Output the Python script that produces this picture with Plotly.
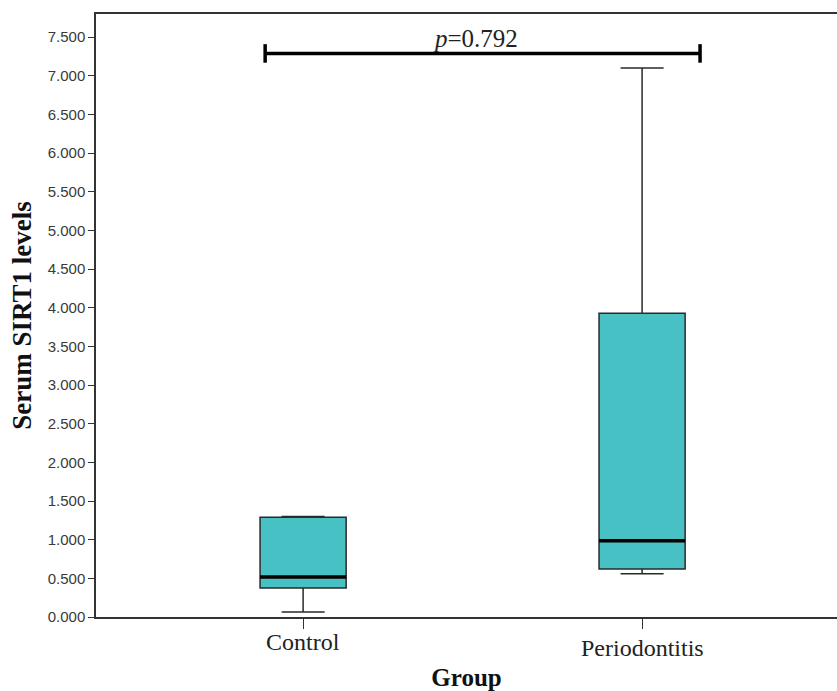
import plotly.graph_objects as go

groups = ["Control", "Periodontitis"]
lower_whisker = [0.065, 0.56]
q1 = [0.375, 0.62]
median = [0.517, 0.985]
q3 = [1.29, 3.93]
upper_whisker = [1.30, 7.10]
p_text = "<i>p</i>=0.792"
bracket_y = 7.29
y_ticks = [i * 0.5 for i in range(16)]

fill = "#48C1C4"
box_w = 0.254

fig = go.Figure()
fig.add_trace(go.Box(
    x=groups, q1=q1, median=median, q3=q3,
    lowerfence=lower_whisker, upperfence=upper_whisker,
    fillcolor=fill, line=dict(color="#2a2a2a", width=1.5),
    width=box_w, whiskerwidth=0.5, boxpoints=False, showlegend=False,
    hoverinfo="skip",
))

# thick median lines
for i, m in enumerate(median):
    fig.add_shape(type="line", xref="x", yref="y",
                  x0=i - box_w / 2, x1=i + box_w / 2, y0=m, y1=m,
                  line=dict(color="black", width=3.5))

# category labels (drawn as annotations so each can sit at its own height)
label_shift = [-10, -16]
for g, s in zip(groups, label_shift):
    fig.add_annotation(x=g, y=0, xref="x", yref="paper", text=g,
                       showarrow=False, yanchor="top", yshift=s,
                       font=dict(family="Liberation Serif", size=24, color="#222"))

# significance bracket
bx0, bx1 = -0.112, 1.171
fig.add_shape(type="line", xref="x", yref="y", x0=bx0, x1=bx1,
              y0=bracket_y, y1=bracket_y, line=dict(color="black", width=3.5))
for bx in (bx0, bx1):
    fig.add_shape(type="line", xref="x", yref="y", x0=bx, x1=bx,
                  y0=bracket_y - 0.12, y1=bracket_y + 0.12,
                  line=dict(color="black", width=3.5))
fig.add_annotation(x=(bx0 + bx1) / 2 - 0.02, y=bracket_y, xref="x", yref="y",
                   text=p_text, showarrow=False, yanchor="bottom", yshift=-1,
                   font=dict(family="Liberation Serif", size=25, color="#222"))

fig.update_layout(
    width=837, height=691,
    margin=dict(l=96, r=0, t=14, b=74, autoexpand=False),
    paper_bgcolor="white", plot_bgcolor="white",
    xaxis=dict(
        range=[-0.611, 1.575], showline=True, linecolor="#333", linewidth=1.5,
        mirror=True, ticks="outside", ticklen=10, tickcolor="#333",
        automargin=False, showticklabels=False,
        title=dict(text="<b>Group</b>", standoff=42,
                   font=dict(family="Liberation Serif", size=25, color="#111")),
        showgrid=False, zeroline=False,
    ),
    yaxis=dict(
        range=[0, 7.80], tickvals=y_ticks, tickformat=".3f",
        showline=True, linecolor="#333", linewidth=1.5, ticks="outside",
        ticklen=6, tickcolor="#333", automargin=False,
        tickfont=dict(family="Liberation Sans", size=15, color="#3a3a3a"),
        title=dict(text="<b>Serum SIRT1 levels</b>", standoff=8,
                   font=dict(family="Liberation Serif", size=27, color="#111")),
        showgrid=False, zeroline=False,
    ),
)

fig.write_html(
    "out.html",
    config={"displayModeBar": False},
    post_script="document.body.style.margin='0';document.body.style.overflow='hidden';",
)
